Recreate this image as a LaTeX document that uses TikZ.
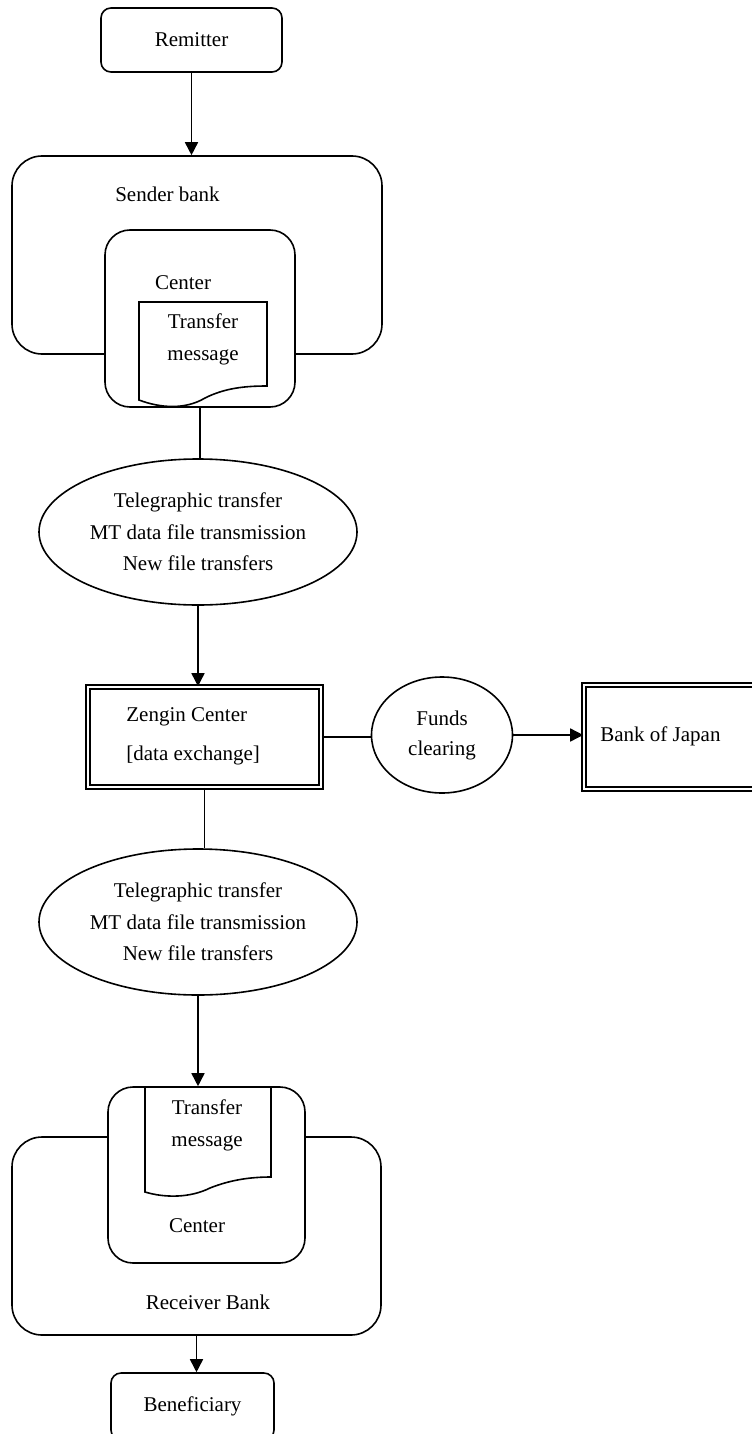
\documentclass[tikz,border=0pt]{standalone}
\usepackage{fontspec}
\setmainfont{Liberation Serif}
\usetikzlibrary{arrows.meta,shapes.geometric}

\tikzset{
  box/.style={draw,line width=0.8pt,inner sep=0pt},
  ovalbox/.style={draw,ellipse,line width=0.8pt,inner sep=0pt,align=center},
  dblbox/.style={draw,line width=0.8pt,double,double distance=1.2pt,inner sep=0pt},
  flow/.style={line width=0.8pt,-{Triangle[length=6.5pt,width=6.5pt]}},
  link/.style={line width=0.8pt},
  doc/.style={draw,line width=0.8pt,fill=white},
  txt/.style={inner sep=0pt,align=center}
}

\begin{document}
\begin{tikzpicture}[x=0.5pt,y=-0.5pt,font=\fontsize{10.5}{16}\selectfont]

\useasboundingbox (0,0) rectangle (751,1434);

\node[box,rounded corners=5pt,minimum width=90.5pt,minimum height=32pt] (remitter) at (191.5,40) {Remitter};

\node[box,rounded corners=15pt,minimum width=185pt,minimum height=99pt] (sbank) at (197,255) {};
\node[txt] (sbanktxt) at (167.5,194) {Sender bank};

\node[box,fill=white,rounded corners=12.5pt,minimum width=95pt,minimum height=88.5pt] (scenter) at (200,318.5) {};
\node[txt] (scentertxt) at (183,283) {Center};

\draw[doc] (139,302) -- (267,302) -- (267,386)
  .. controls (245,386) and (225,388) .. (205,398)
  .. controls (185,410) and (160,408) .. (139,400) -- cycle;
\node[txt] (smsg) at (203,339) {Transfer\\message};

\draw[flow] (remitter.south) -- (remitter.south |- sbank.north);

\node[ovalbox,font=\fontsize{10.5}{15.75}\selectfont,minimum width=159pt,minimum height=73pt] (ell1) at (198,532) {Telegraphic transfer\\MT data file transmission\\New file transfers};

\draw[link] (scenter.south) -- (scenter.south |- ell1.north);

\node[dblbox,minimum width=116.5pt,minimum height=50pt] (zengin) at (204.5,737) {};
\node[txt,anchor=west,align=left,font=\fontsize{10.5}{19.5}\selectfont] (zengintxt) at (126,736.5) {Zengin Center\\{[data exchange]}};

\draw[flow] (ell1.south) -- (ell1.south |- zengin.north);

\node[ovalbox,font=\fontsize{10.5}{15}\selectfont,minimum width=70.5pt,minimum height=58pt] (funds) at (442,735) {Funds\\clearing};

\node[dblbox,minimum width=93pt,minimum height=52pt] (boj) at (677,737) {};
\node[txt,anchor=west] (bojtxt) at (600,736) {Bank of Japan};

\draw[link] (zengin.east) -- (zengin.east -| funds.west);
\draw[flow] (funds.east) -- (funds.east -| boj.west);

\node[ovalbox,font=\fontsize{10.5}{15.75}\selectfont,minimum width=159pt,minimum height=73pt] (ell2) at (198,922) {Telegraphic transfer\\MT data file transmission\\New file transfers};

\draw[link] (zengin.south) -- (zengin.south |- ell2.north);

\node[box,rounded corners=15pt,minimum width=184.5pt,minimum height=99pt] (rbank) at (196.5,1236) {};
\node[txt] (rbanktxt) at (208,1302) {Receiver Bank};

\node[box,fill=white,rounded corners=12.5pt,minimum width=98.5pt,minimum height=88pt] (rcenter) at (206.5,1175) {};
\node[txt] (rcentertxt) at (197,1226) {Center};

\draw[doc] (145,1087) -- (271,1087) -- (271,1177)
  .. controls (250,1177) and (230,1180) .. (210,1188)
  .. controls (190,1198) and (165,1198) .. (145,1192) -- cycle;
\node[txt] (rmsg) at (207,1125.5) {Transfer\\message};

\draw[flow] (ell2.south) -- (ell2.south |- rcenter.north);

\node[box,rounded corners=5pt,minimum width=81.5pt,minimum height=33.5pt] (benef) at (192.5,1406.5) {Beneficiary};

\draw[flow] (rbank.south) -- (rbank.south |- benef.north);

\end{tikzpicture}
\end{document}
